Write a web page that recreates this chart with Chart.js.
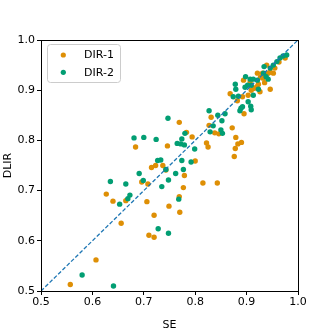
<!DOCTYPE html>
<html>
<head>
<meta charset="utf-8">
<script src="https://cdn.jsdelivr.net/npm/chart.js@4/dist/chart.umd.min.js"></script>
<style>
html,body{margin:0;padding:0;background:#fff;}
#wrap{width:332px;height:332px;position:relative;}
</style>
</head>
<body>
<div id="wrap"><canvas id="c" width="332" height="332"></canvas></div>
<script>
const seriesNames = ["DIR-1", "DIR-2"];
const axisTicks = [0.5, 0.6, 0.7, 0.8, 0.9, 1.0];
const diagLine = [0.5, 1.0];

const dir1SE = [0.746,0.769,0.831,0.827,0.783,0.794,0.822,0.825,0.838,0.846,0.872,0.879,0.883,0.890,0.878,0.876,0.800,0.868,0.882,0.895,0.892,0.894,0.915,0.920,0.946,0.935,0.927,0.921,0.715,0.723,0.737,0.743,0.696,0.708,0.627,0.640,0.665,0.706,0.749,0.720,0.656,0.710,0.720,0.607,0.557,0.779,0.777,0.815,0.843,0.769,0.770,0.907,0.923,0.909,0.926,0.903,0.931,0.942,0.952,0.975,0.932,0.939,0.955,0.963,0.946,0.684];
const dir1DLIR = [0.789,0.836,0.846,0.830,0.816,0.807,0.795,0.787,0.815,0.813,0.825,0.806,0.793,0.796,0.784,0.768,0.759,0.893,0.879,0.853,0.887,0.920,0.904,0.907,0.902,0.915,0.926,0.934,0.746,0.750,0.750,0.741,0.717,0.713,0.693,0.679,0.680,0.678,0.669,0.651,0.635,0.611,0.607,0.562,0.513,0.730,0.706,0.715,0.715,0.688,0.657,0.917,0.912,0.900,0.897,0.890,0.934,0.934,0.934,0.964,0.924,0.950,0.944,0.956,0.936,0.787];

const dir2SE = [0.747,0.827,0.844,0.858,0.852,0.835,0.780,0.774,0.765,0.772,0.779,0.799,0.829,0.850,0.853,0.774,0.792,0.777,0.733,0.878,0.879,0.874,0.884,0.889,0.887,0.892,0.903,0.908,0.909,0.898,0.907,0.913,0.897,0.909,0.923,0.921,0.933,0.727,0.743,0.748,0.691,0.699,0.635,0.665,0.735,0.673,0.669,0.653,0.728,0.748,0.580,0.641,0.762,0.768,0.938,0.942,0.946,0.952,0.959,0.965,0.971,0.978,0.934,0.902,0.913,0.681,0.700,0.724];
const dir2DLIR = [0.844,0.859,0.850,0.853,0.839,0.829,0.814,0.803,0.794,0.793,0.791,0.783,0.817,0.821,0.814,0.760,0.757,0.742,0.761,0.912,0.902,0.887,0.888,0.864,0.859,0.867,0.877,0.868,0.861,0.927,0.922,0.922,0.906,0.910,0.902,0.920,0.934,0.760,0.742,0.721,0.734,0.720,0.718,0.713,0.708,0.691,0.684,0.673,0.624,0.615,0.532,0.510,0.734,0.683,0.927,0.922,0.944,0.950,0.957,0.964,0.968,0.970,0.947,0.910,0.890,0.805,0.806,0.802];

const colors = ["#DE8F05", "#029E73"];
const lineColor = "#1f77b4";

function pts(xs, ys){ return xs.map((x,i)=>({x:x, y:ys[i]})); }

const FONT = "'DejaVu Sans', sans-serif";

const boxPlugin = {
  id: 'box',
  afterDraw(chart){
    const {ctx, chartArea:a} = chart;
    ctx.save();
    ctx.strokeStyle = '#000';
    ctx.lineWidth = 1;
    ctx.strokeRect(Math.round(a.left)+0.5, Math.round(a.top)+0.5, Math.round(a.right-a.left), Math.round(a.bottom-a.top));
    const lx = 47.5, ly = 44.5, lw = 73, lh = 38;
    ctx.fillStyle = 'rgba(255,255,255,0.85)';
    ctx.strokeStyle = '#cccccc';
    ctx.beginPath();
    if (ctx.roundRect) ctx.roundRect(lx, ly, lw, lh, 3); else ctx.rect(lx, ly, lw, lh);
    ctx.fill(); ctx.stroke();
    ctx.font = "11px " + FONT;
    ctx.textBaseline = 'middle';
    ctx.textAlign = 'left';
    for (let i=0;i<2;i++){
      const cy = 55 + i*17.3;
      ctx.fillStyle = colors[i];
      ctx.beginPath(); ctx.arc(63.3, cy, 2.6, 0, Math.PI*2); ctx.fill();
      ctx.fillStyle = '#000';
      ctx.fillText(chart.data.datasets[i].label, 84, cy+0.5);
    }
    ctx.restore();
  }
};

new Chart(document.getElementById('c'), {
  type: 'scatter',
  data: {
    datasets: [
      {label: seriesNames[0], data: pts(dir1SE, dir1DLIR), backgroundColor: colors[0], borderWidth: 0, pointRadius: 2.7, order: 2},
      {label: seriesNames[1], data: pts(dir2SE, dir2DLIR), backgroundColor: colors[1], borderWidth: 0, pointRadius: 2.7, order: 1},
      {type: 'line', label: 'diag', data: [{x:diagLine[0], y:diagLine[0]},{x:diagLine[1], y:diagLine[1]}], borderColor: lineColor, borderWidth: 1.3, borderDash: [4,2], pointRadius: 0, fill: false, order: 0}
    ]
  },
  options: {
    responsive: false,
    animation: false,
    devicePixelRatio: 1,
    layout: {padding: {left: 2, right: 34, top: 40, bottom: 0}},
    plugins: {legend: {display: false}, tooltip: {enabled: false}},
    scales: {
      x: {
        type: 'linear', min: 0.5, max: 1.0,
        afterBuildTicks(s){ s.ticks = axisTicks.map(v=>({value:v})); },
        afterFit(s){ s.height = 41; },
        grid: {display: true, drawOnChartArea: false, drawTicks: true, tickLength: 4, color: '#000'},
        border: {display: true, color: '#000'},
        ticks: {color: '#000', font: {size: 11, family: FONT}, padding: 1, maxRotation: 0, callback: v => v.toFixed(1)},
        title: {display: true, text: 'SE', color: '#000', font: {size: 11, family: FONT}, padding: {top: 2, bottom: 0}}
      },
      y: {
        type: 'linear', min: 0.5, max: 1.0,
        afterBuildTicks(s){ s.ticks = axisTicks.map(v=>({value:v})); },
        afterFit(s){ s.width = 39; },
        grid: {display: true, drawOnChartArea: false, drawTicks: true, tickLength: 4, color: '#000'},
        border: {display: true, color: '#000'},
        ticks: {color: '#000', font: {size: 11, family: FONT}, padding: 2, callback: v => v.toFixed(1)},
        title: {display: true, text: 'DLIR', color: '#000', font: {size: 11, family: FONT}, padding: {top: 0, bottom: 2}}
      }
    }
  },
  plugins: [boxPlugin]
});
</script>
</body>
</html>
